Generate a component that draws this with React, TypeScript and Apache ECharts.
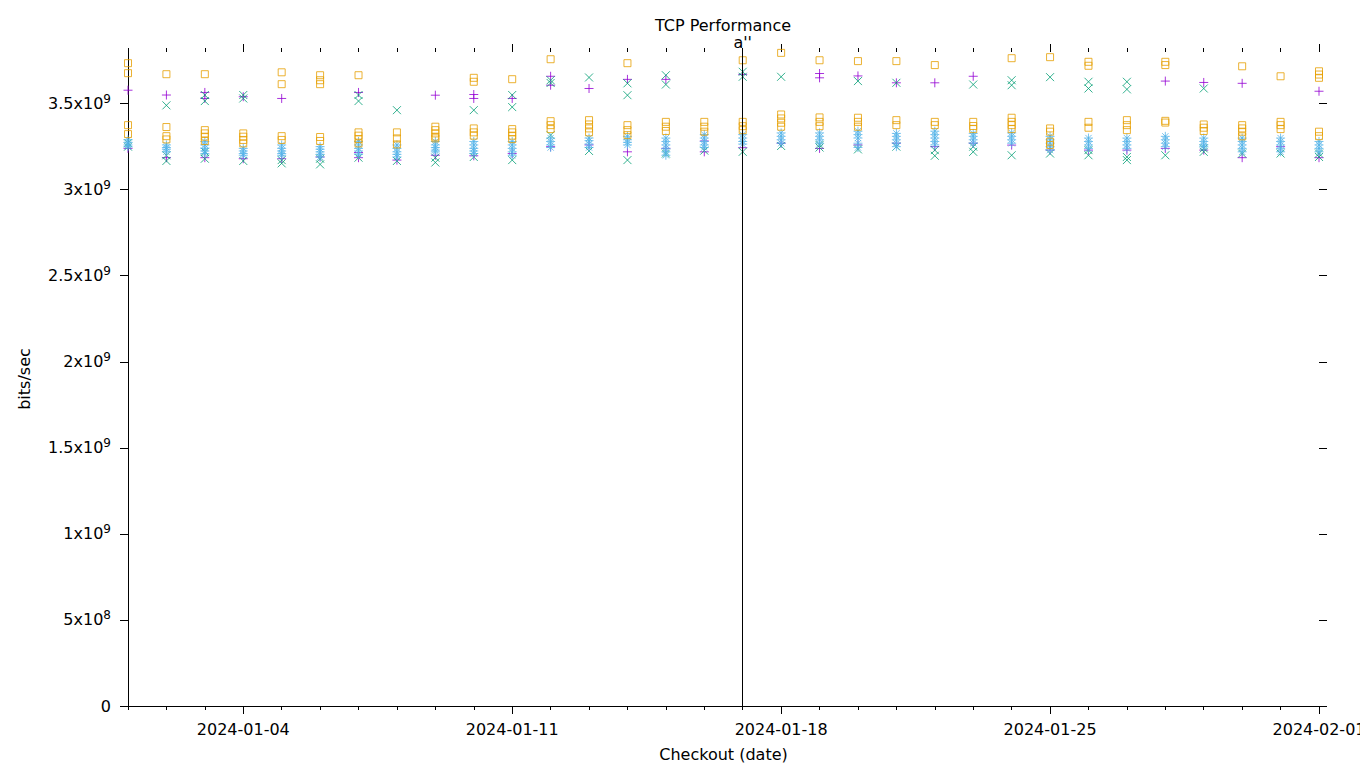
import React, { useEffect, useRef } from 'react';
import * as echarts from 'echarts';

const days = [
  '2024-01-01', '2024-01-02', '2024-01-03', '2024-01-04', '2024-01-05', '2024-01-06', '2024-01-07', '2024-01-08',
  '2024-01-09', '2024-01-10', '2024-01-11', '2024-01-12', '2024-01-13', '2024-01-14', '2024-01-15', '2024-01-16',
  '2024-01-17', '2024-01-18', '2024-01-19', '2024-01-20', '2024-01-21', '2024-01-22', '2024-01-23', '2024-01-24',
  '2024-01-25', '2024-01-26', '2024-01-27', '2024-01-28', '2024-01-29', '2024-01-30', '2024-01-31', '2024-02-01',
];
const majorDays = ['2024-01-04', '2024-01-11', '2024-01-18', '2024-01-25', '2024-02-01'];
const yTicks = [0, 0.5, 1, 1.5, 2, 2.5, 3, 3.5];
const markerDay = '2024-01-17';
const markerLabel = "a''";

// values in units of 1e9 bits/sec, one list per day
const purplePlus: number[][] = [
  [3.578, 3.24], [3.55, 3.186], [3.565, 3.53, 3.186], [3.54, 3.18], [3.53, 3.18], [3.19],
  [3.565, 3.216, 3.186], [3.172], [3.549, 3.2], [3.553, 3.53, 3.197], [3.53, 3.21], [3.659, 3.607, 3.25],
  [3.588, 3.26], [3.641, 3.22], [3.641, 3.24], [3.283, 3.22], [3.67, 3.244], [3.27],
  [3.675, 3.65, 3.24], [3.661, 3.26], [3.621, 3.27], [3.621, 3.25], [3.659, 3.27], [3.259],
  [3.23], [3.23], [3.23], [3.631, 3.24], [3.623, 3.23], [3.618, 3.186], [3.25], [3.572, 3.186],
];
const greenCross: number[][] = [
  [3.25, 3.27], [3.49, 3.2, 3.167], [3.55, 3.515, 3.22, 3.18], [3.55, 3.53, 3.167], [3.172, 3.153], [3.18, 3.147],
  [3.55, 3.515, 3.186], [3.462, 3.167], [3.186, 3.158], [3.462, 3.19], [3.55, 3.48, 3.172], [3.636, 3.62, 3.317],
  [3.652, 3.225], [3.618, 3.549, 3.172], [3.665, 3.611, 3.21], [3.227], [3.685, 3.656, 3.22], [3.656, 3.254],
  [3.26, 3.245], [3.631, 3.234], [3.621, 3.25], [3.23, 3.197], [3.611, 3.25, 3.22], [3.636, 3.607, 3.2],
  [3.654, 3.21], [3.627, 3.588, 3.23, 3.2], [3.627, 3.583, 3.19, 3.172], [3.2], [3.588, 3.24, 3.22], [3.21],
  [3.21], [3.21, 3.19],
];
const blueStar: number[][] = [
  [3.29, 3.275, 3.26, 3.25], [3.26, 3.245, 3.235, 3.22], [3.28, 3.26, 3.24, 3.225, 3.21], [3.24, 3.225, 3.21, 3.2],
  [3.26, 3.24, 3.225, 3.21, 3.2], [3.25, 3.235, 3.22, 3.205, 3.19], [3.28, 3.26, 3.24, 3.225, 3.205],
  [3.26, 3.24, 3.22, 3.205, 3.19], [3.28, 3.26, 3.245, 3.23, 3.22], [3.28, 3.26, 3.24, 3.225, 3.21],
  [3.28, 3.26, 3.24, 3.22, 3.2], [3.3, 3.28, 3.26, 3.245], [3.3, 3.285, 3.265, 3.245], [3.31, 3.29, 3.275, 3.26],
  [3.3, 3.28, 3.26, 3.24, 3.22, 3.2], [3.32, 3.3, 3.28, 3.26, 3.245], [3.32, 3.3, 3.28, 3.265],
  [3.33, 3.31, 3.29, 3.27], [3.33, 3.31, 3.29, 3.27], [3.34, 3.32, 3.3, 3.27, 3.245], [3.327, 3.31, 3.29, 3.27, 3.25],
  [3.34, 3.32, 3.3, 3.28, 3.26], [3.327, 3.31, 3.29, 3.27], [3.33, 3.31, 3.29, 3.27], [3.31, 3.29, 3.27, 3.25, 3.23],
  [3.3, 3.28, 3.26, 3.24], [3.3, 3.28, 3.26, 3.24], [3.31, 3.29, 3.27, 3.25], [3.3, 3.28, 3.26, 3.25],
  [3.3, 3.28, 3.26, 3.24, 3.22], [3.3, 3.28, 3.26, 3.24, 3.22], [3.28, 3.26, 3.24, 3.22],
];
const orangeSquare: number[][] = [
  [3.735, 3.677, 3.375, 3.323], [3.671, 3.364, 3.311, 3.292], [3.671, 3.346, 3.327, 3.308, 3.283],
  [3.327, 3.308, 3.289, 3.269], [3.682, 3.613, 3.311, 3.289], [3.665, 3.636, 3.613, 3.306, 3.283],
  [3.665, 3.333, 3.314, 3.294, 3.269], [3.333, 3.298, 3.263], [3.366, 3.346, 3.327, 3.308, 3.298],
  [3.65, 3.627, 3.356, 3.333, 3.314], [3.642, 3.352, 3.333, 3.314, 3.294], [3.758, 3.398, 3.375, 3.352],
  [3.404, 3.379, 3.356, 3.333], [3.735, 3.375, 3.346, 3.317], [3.394, 3.366, 3.341], [3.394, 3.366, 3.337],
  [3.752, 3.394, 3.369, 3.346], [3.795, 3.437, 3.414, 3.389, 3.366], [3.752, 3.42, 3.394, 3.369],
  [3.747, 3.418, 3.394, 3.366], [3.747, 3.404, 3.375], [3.724, 3.394, 3.375], [3.394, 3.37, 3.352],
  [3.764, 3.418, 3.394, 3.375, 3.352], [3.77, 3.356, 3.337, 3.279, 3.26], [3.743, 3.72, 3.394, 3.36],
  [3.404, 3.375, 3.346], [3.743, 3.724, 3.4, 3.39], [3.379, 3.36, 3.341], [3.717, 3.375, 3.356, 3.337, 3.31],
  [3.659, 3.394, 3.375, 3.352], [3.688, 3.669, 3.65, 3.337, 3.311],
];

const FONT = 'DejaVu Sans';
const PLUS = 'path://M0 5L10 5M5 0L5 10';
const CROSS = 'path://M0 0L10 10M0 10L10 0';
const STAR = 'path://M0 5L10 5M5 0L5 10M1.5 1.5L8.5 8.5M1.5 8.5L8.5 1.5';
const SQUARE = 'path://M0 0L10 0L10 10L0 10Z';

function toPoints(arr: number[][]) {
  const out: number[][] = [];
  arr.forEach((vals, i) => vals.forEach((v) => out.push([i, v])));
  return out;
}

const isMajor = (_i: number, v: string) => majorDays.includes(v);

export default function App() {
  const ref = useRef<HTMLDivElement>(null);
  useEffect(() => {
    if (!ref.current) return;
    const chart = echarts.init(ref.current, undefined, { renderer: 'svg' });
    const mkSeries = (name: string, data: number[][], symbol: string, size: number, color: string, extra: any = {}) => ({
      type: 'scatter',
      name,
      data: toPoints(data),
      symbol,
      symbolSize: size,
      itemStyle: { color: 'rgba(0,0,0,0)', borderColor: color, borderWidth: 1 },
      emphasis: { disabled: true },
      ...extra,
    });
    const catBase = {
      type: 'category',
      data: days,
      boundaryGap: false,
      splitLine: { show: false },
    };
    chart.setOption({
      animation: false,
      backgroundColor: '#ffffff',
      textStyle: { fontFamily: FONT },
      grid: { left: 128, right: 41, top: 52, bottom: 62, containLabel: false, outerBoundsMode: 'none' },
      graphic: [
        {
          type: 'text',
          x: 723,
          y: 25,
          style: { text: 'TCP Performance', font: `16px "${FONT}"`, fill: '#000', textAlign: 'center', textVerticalAlign: 'middle' },
        },
      ],
      xAxis: [
        {
          ...catBase,
          position: 'bottom',
          axisLine: { show: true, lineStyle: { color: '#000', width: 1 } },
          axisTick: { show: true, interval: 0, inside: false, length: 4, lineStyle: { color: '#000' } },
          axisLabel: { show: false },
        },
        {
          ...catBase,
          position: 'bottom',
          axisLine: { show: false },
          axisTick: { show: true, interval: isMajor, inside: false, length: 8, lineStyle: { color: '#000' } },
          axisLabel: { show: true, interval: isMajor, color: '#000', fontSize: 16, fontFamily: FONT, margin: 15 },
          name: 'Checkout (date)',
          nameLocation: 'middle',
          nameGap: 40,
          nameTextStyle: { color: '#000', fontSize: 16, fontFamily: FONT },
        },
        {
          ...catBase,
          position: 'top',
          axisLine: { show: false },
          axisTick: { show: true, interval: 0, inside: false, length: 4, lineStyle: { color: '#000' } },
          axisLabel: { show: false },
        },
        {
          ...catBase,
          position: 'top',
          axisLine: { show: false },
          axisTick: { show: true, interval: isMajor, inside: false, length: 8, lineStyle: { color: '#000' } },
          axisLabel: { show: false },
        },
      ],
      yAxis: [
        {
          type: 'value',
          position: 'left',
          min: 0,
          max: 3.8,
          interval: 0.5,
          splitLine: { show: false },
          axisLine: { show: true, lineStyle: { color: '#000', width: 1 } },
          axisTick: { show: true, inside: false, length: 8, lineStyle: { color: '#000' }, customValues: yTicks },
          axisLabel: {
            show: true,
            customValues: yTicks,
            color: '#000',
            fontSize: 16,
            fontFamily: FONT,
            margin: 17,
            formatter: (v: number) => {
              if (v === 0) return '0';
              if (v < 1) return `${Math.round(v * 10)}x10{sup|8}`;
              return `${v}x10{sup|9}`;
            },
            rich: {
              sup: { fontSize: 12, fontFamily: FONT, color: '#000', padding: [0, 0, 10, 0] },
            },
          },
          name: 'bits/sec',
          nameLocation: 'middle',
          nameGap: 96,
          nameRotate: 90,
          nameTextStyle: { color: '#000', fontSize: 16, fontFamily: FONT },
        },
        {
          type: 'value',
          position: 'right',
          min: 0,
          max: 3.8,
          interval: 0.5,
          splitLine: { show: false },
          axisLine: { show: false },
          axisTick: { show: true, inside: false, length: 8, lineStyle: { color: '#000' }, customValues: yTicks },
          axisLabel: { show: false },
        },
      ],
      series: [
        mkSeries('A', purplePlus, PLUS, 9, '#9400d3', {
          markLine: {
            silent: true,
            symbol: 'none',
            lineStyle: { color: '#000', width: 1, type: 'solid' },
            label: { show: true, position: 'end', formatter: markerLabel, color: '#000', fontSize: 16, fontFamily: FONT, distance: 2 },
            data: [{ xAxis: markerDay }],
          },
        }),
        mkSeries('B', greenCross, CROSS, 8, '#009e73'),
        mkSeries('C', blueStar, STAR, 9, '#56b4e9'),
        mkSeries('D', orangeSquare, SQUARE, 7, '#e69f00'),
      ],
    });
    return () => chart.dispose();
  }, []);
  return <div ref={ref} style={{ position: 'absolute', left: 0, top: 0, width: 1360, height: 768 }} />;
}
